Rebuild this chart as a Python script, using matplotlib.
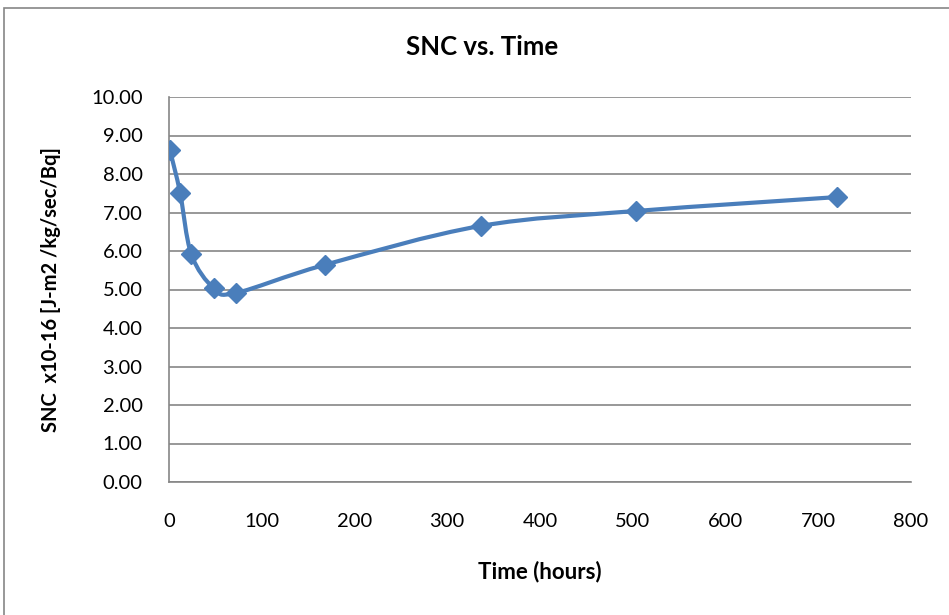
import numpy as np
import matplotlib.pyplot as plt
from matplotlib.path import Path
from matplotlib.patches import PathPatch, Rectangle

hours = [1, 12, 24, 48, 72, 168, 336, 504, 720]
snc = [8.62, 7.51, 5.92, 5.04, 4.91, 5.64, 6.65, 7.04, 7.40]

plt.rcParams['font.family'] = ['Lato', 'DejaVu Sans']

fig = plt.figure(figsize=(9.49, 6.15), dpi=100)
ax = fig.add_axes([169 / 949, 1 - 482 / 615, (911 - 169) / 949, (482 - 97) / 615])

blue = '#4A7EBB'
grey = '#868686'

# Excel-style smoothed line: cubic bezier through the points
pts = np.column_stack([hours, snc])
verts = [pts[0]]
codes = [Path.MOVETO]
for i in range(len(pts) - 1):
    p0 = pts[i - 1] if i > 0 else pts[i]
    p1 = pts[i]
    p2 = pts[i + 1]
    p3 = pts[i + 2] if i + 2 < len(pts) else pts[i + 1]
    c1 = p1 + (p2 - p0) / 6
    c2 = p2 - (p3 - p1) / 6
    verts += [c1, c2, p2]
    codes += [Path.CURVE4] * 3
ax.add_patch(PathPatch(Path(verts, codes), fill=False, edgecolor=blue, lw=3, capstyle='round', joinstyle='round', zorder=3))
ax.plot(hours, snc, linestyle='none', marker='D', markersize=10, color=blue, zorder=4)

ax.set_xlim(0, 800)
ax.set_ylim(0, 10)
ax.set_xticks(np.arange(0, 801, 100))
ax.set_yticks(np.arange(0, 10.01, 1))
ax.set_yticklabels(['%.2f' % v for v in np.arange(0, 10.01, 1)])
ax.tick_params(length=0, labelsize=14.5)
ax.tick_params(axis='y', pad=19)
ax.tick_params(axis='x', pad=22)
ax.grid(axis='y', color=grey, lw=1.2)
ax.set_axisbelow(True)
for s in ['top', 'right']:
    ax.spines[s].set_visible(False)
for s in ['left', 'bottom']:
    ax.spines[s].set_color(grey)
    ax.spines[s].set_linewidth(1.2)

fig.text(482 / 949, 1 - 47 / 615, 'SNC vs. Time', ha='center', va='center', fontsize=18.5, fontweight='bold')
fig.text(540 / 949, 1 - 572 / 615, 'Time (hours)', ha='center', va='center', fontsize=16, fontweight='bold')
fig.text(51 / 949, 1 - 290 / 615, 'SNC  x10-16 [J-m2 /kg/sec/Bq]', ha='center', va='center',
         rotation=90, fontsize=14.5, fontweight='bold')

fig.patches.append(Rectangle((4 / 949, -0.1), 1.1, 1 - 8 / 615 + 0.1, transform=fig.transFigure,
                             fill=False, edgecolor=grey, lw=1.2))

fig.savefig('out.png', dpi=100)
